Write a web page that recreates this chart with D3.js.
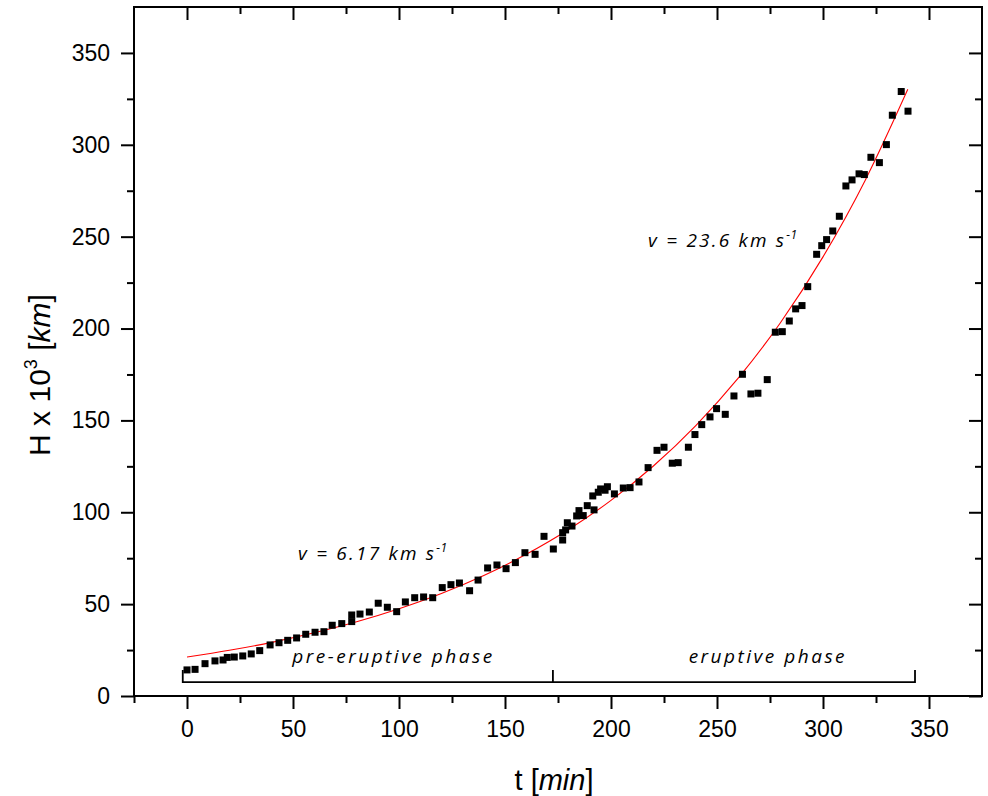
<!DOCTYPE html>
<html>
<head>
<meta charset="utf-8">
<script src="https://cdn.jsdelivr.net/npm/d3@7"></script>
<style>
  html, body { margin: 0; padding: 0; background: #fff; }
  svg { display: block; }
</style>
</head>
<body>
<svg id="chart" width="988" height="796"></svg>
<script>
// ---- data ----
const tData = [0, 3.8, 8.5, 13.2, 17.0, 19.0, 22.3, 26.3, 30.3, 34.3, 39.2, 43.4, 47.5, 51.7, 56.0, 60.4, 64.6, 68.5, 73.0, 77.7,
  77.7, 81.6, 86.0, 90.2, 94.5, 98.9, 103.0, 107.4, 111.6, 115.9, 120.4, 124.5, 128.5, 133.3, 137.3, 141.8, 146.2, 150.5, 154.9, 159.4,
  164.2, 168.4, 172.8, 177.2, 177.2, 178.6, 179.4, 181.6, 183.8, 184.9, 186.9, 188.8, 192.0, 191.4, 194.0, 195.1, 197.2, 198.3, 201.6, 205.8,
  209.0, 213.2, 217.5, 221.7, 225.0, 228.9, 231.7, 236.5, 239.6, 242.8, 246.7, 249.8, 253.9, 258.0, 262.0, 266.0, 269.3, 273.7, 277.5, 280.8,
  284.1, 287.1, 290.1, 292.8, 297.0, 299.4, 301.7, 304.6, 307.7, 310.8, 313.7, 317.0, 319.5, 322.6, 326.6, 329.9, 332.7, 336.9, 340.1];
const hData = [14.2, 14.5, 17.6, 19.1, 19.6, 21.0, 21.2, 21.8, 22.9, 24.7, 27.8, 29.0, 30.3, 31.6, 33.6, 34.7, 35.0, 38.5, 39.4, 44.1,
  40.5, 44.6, 45.7, 50.5, 48.3, 45.9, 51.2, 53.5, 53.9, 53.5, 59.0, 60.6, 61.5, 57.3, 63.1, 69.7, 71.3, 69.3, 72.6, 78.0,
  77.1, 86.9, 80.0, 84.9, 88.9, 90.4, 94.3, 92.5, 98.0, 100.9, 98.2, 103.6, 101.3, 108.9, 110.9, 112.7, 112.0, 113.9, 110.0, 113.2,
  113.4, 116.5, 124.3, 133.7, 135.4, 126.7, 127.0, 135.4, 142.3, 147.7, 151.9, 156.4, 153.3, 163.3, 175.1, 164.4, 164.8, 172.2, 198.0, 198.3,
  204.1, 210.7, 212.5, 222.8, 240.4, 245.1, 248.4, 253.1, 261.1, 277.6, 280.9, 284.2, 283.8, 293.2, 290.3, 300.1, 316.1, 329.0, 318.3];

// fitted curve (red)
const fitT = [0, 20, 40, 60, 80, 100, 120, 140, 160, 180, 200, 220, 240, 260, 280, 300, 320, 340];
const fitH = [21.2, 24.9, 29.2, 34.4, 40.4, 47.5, 55.8, 65.6, 77.1, 90.6, 106.5, 125.2, 147.2, 173.0, 203.3, 239.0, 280.9, 330.2];

const xMajorTicks = [0, 50, 100, 150, 200, 250, 300, 350];
const xMinorTicks = [-25, 25, 75, 125, 175, 225, 275, 325];
const yMajorTicks = [0, 50, 100, 150, 200, 250, 300, 350];
const yMinorTicks = [25, 75, 125, 175, 225, 275, 325];

const phaseLabels = ["pre-eruptive phase", "eruptive phase"];
const phaseFrom = [-2, 172.6];
const phaseTo = [172.6, 343.4];
const phaseLabelT = [97.4, 274];

const velocityLabels = ["v = 6.17 km s", "v = 23.6 km s"];
const velocityT = [52.4, 217.5];
const velocityH = [74, 244.6];

// ---- layout ----
const svg = d3.select("#chart");
const mLeft = 134, mRight = 982, mTop = 7, mBottom = 696;
const x = d3.scaleLinear().domain([-25, 375]).range([mLeft, mRight]);
const y = d3.scaleLinear().domain([0, 375]).range([mBottom, mTop]);

const axisFont = "'Liberation Sans', Arial, sans-serif";
const annoFont = "'Open Sans', sans-serif";

// fit curve
svg.append("path")
  .datum(fitT.map((t, i) => [t, fitH[i]]))
  .attr("fill", "none").attr("stroke", "#ff0000").attr("stroke-width", 1.1)
  .attr("d", d3.line().x(d => x(d[0])).y(d => y(d[1])).curve(d3.curveMonotoneX));

// data squares
const sz = 7;
svg.append("g").selectAll("rect")
  .data(tData.map((t, i) => [t, hData[i]]))
  .join("rect")
  .attr("x", d => x(d[0]) - sz / 2).attr("y", d => y(d[1]) - sz / 2)
  .attr("width", sz).attr("height", sz).attr("fill", "#000");

// axes
function styleAxis(g) {
  g.select(".domain").remove();
  g.selectAll(".tick line").attr("stroke", "#000").attr("stroke-width", 2);
  g.selectAll(".tick text").attr("font-family", axisFont).attr("font-size", 23).attr("fill", "#000");
}
// bottom
svg.append("g").attr("transform", `translate(0,${mBottom})`)
  .call(d3.axisBottom(x).tickValues(xMajorTicks).tickSize(13).tickSizeOuter(0).tickPadding(12).tickFormat(d3.format("d")))
  .call(styleAxis);
svg.append("g").attr("transform", `translate(0,${mBottom})`)
  .call(d3.axisBottom(x).tickValues(xMinorTicks).tickSize(7).tickSizeOuter(0).tickFormat(""))
  .call(styleAxis);
// top (inward)
svg.append("g").attr("transform", `translate(0,${mTop})`)
  .call(d3.axisBottom(x).tickValues(xMajorTicks).tickSize(13).tickSizeOuter(0).tickFormat(""))
  .call(styleAxis);
svg.append("g").attr("transform", `translate(0,${mTop})`)
  .call(d3.axisBottom(x).tickValues(xMinorTicks.filter(v => v > -25)).tickSize(7).tickSizeOuter(0).tickFormat(""))
  .call(styleAxis);
// left
svg.append("g").attr("transform", `translate(${mLeft},0)`)
  .call(d3.axisLeft(y).tickValues(yMajorTicks).tickSize(13).tickSizeOuter(0).tickPadding(11).tickFormat(d3.format("d")))
  .call(styleAxis);
svg.append("g").attr("transform", `translate(${mLeft},0)`)
  .call(d3.axisLeft(y).tickValues(yMinorTicks).tickSize(7).tickSizeOuter(0).tickFormat(""))
  .call(styleAxis);
// right (inward)
svg.append("g").attr("transform", `translate(${mRight},0)`)
  .call(d3.axisLeft(y).tickValues(yMajorTicks).tickSize(13).tickSizeOuter(0).tickFormat(""))
  .call(styleAxis);
svg.append("g").attr("transform", `translate(${mRight},0)`)
  .call(d3.axisLeft(y).tickValues(yMinorTicks).tickSize(7).tickSizeOuter(0).tickFormat(""))
  .call(styleAxis);

// frame
svg.append("rect").attr("x", mLeft).attr("y", mTop).attr("width", mRight - mLeft).attr("height", mBottom - mTop)
  .attr("fill", "none").attr("stroke", "#000").attr("stroke-width", 2);

// phase bracket
const brY = y(7.6), brTop = y(14.2);
svg.append("path")
  .attr("d", `M${x(phaseFrom[0])},${brTop} V${brY} H${x(phaseTo[1])} V${brTop} M${x(phaseTo[0])},${brY} V${brTop}`)
  .attr("fill", "none").attr("stroke", "#000").attr("stroke-width", 1.8);
phaseLabels.forEach((lab, i) => {
  svg.append("text")
    .attr("x", x(phaseLabelT[i]))
    .attr("y", y(18))
    .attr("text-anchor", "middle")
    .attr("font-family", annoFont).attr("font-style", "italic").attr("font-size", 19)
    .attr("letter-spacing", 2.5)
    .text(lab);
});

// velocity annotations
velocityLabels.forEach((lab, i) => {
  const t = svg.append("text")
    .attr("x", x(velocityT[i])).attr("y", y(velocityH[i]))
    .attr("font-family", annoFont).attr("font-style", "italic").attr("font-size", 19)
    .attr("letter-spacing", 2.2);
  t.append("tspan").text(lab);
  t.append("tspan").attr("font-size", 12).attr("dy", -8).attr("letter-spacing", 0.5).text("-1");
});

// axis titles
const xt = svg.append("text")
  .attr("x", 554).attr("y", 790).attr("text-anchor", "middle")
  .attr("font-family", axisFont).attr("font-size", 29);
xt.append("tspan").text("t [");
xt.append("tspan").attr("font-style", "italic").text("min");
xt.append("tspan").text("]");

const yt = svg.append("text")
  .attr("transform", "translate(50,375) rotate(-90)").attr("text-anchor", "middle")
  .attr("font-family", axisFont).attr("font-size", 30);
yt.append("tspan").text("H x 10");
yt.append("tspan").attr("font-size", 18).attr("dy", -13).text("3");
yt.append("tspan").attr("dy", 13).text(" [");
yt.append("tspan").attr("font-style", "italic").text("km");
yt.append("tspan").text("]");
</script>
</body>
</html>
